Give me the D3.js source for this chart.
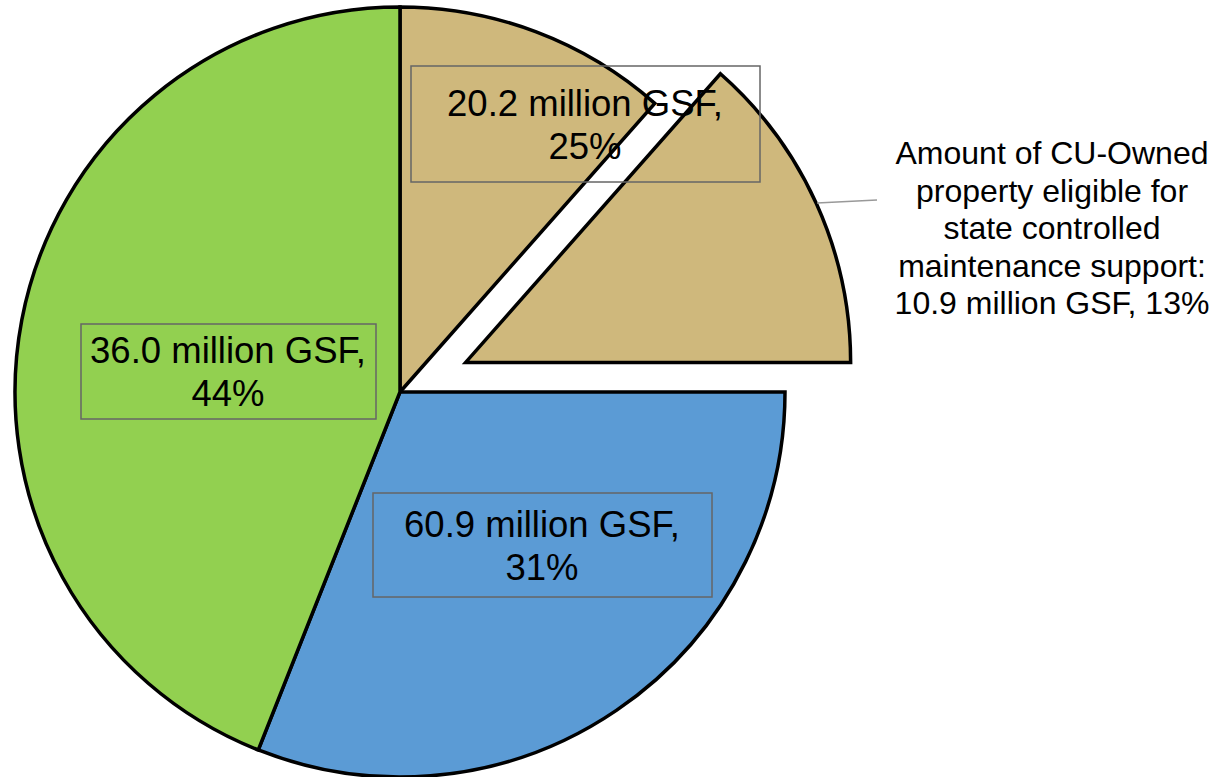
<!DOCTYPE html>
<html>
<head>
<meta charset="utf-8">
<script src="https://cdn.jsdelivr.net/npm/d3@7"></script>
<style>
  html, body { margin: 0; padding: 0; background: #fff; }
  svg { display: block; }
  text { font-family: "Liberation Sans", Arial, Helvetica, sans-serif; fill: #000; }
</style>
</head>
<body>
<svg id="chart" width="1231" height="777"></svg>
<script>
// Share of CU-owned gross square footage, clockwise from 12 o'clock
const slices = ["CU-Owned (state support)", "Other", "Auxiliary"];
const slicePct = [25, 31, 44];
const sliceGSF = [20.2, 60.9, 36.0];
const sliceColors = ["#CFB87C", "#5B9BD5", "#92D050"];

// Part of the first slice eligible for state controlled maintenance support
const eligibleGSF = 10.9;
const eligiblePct = 13;
const eligibleText = [
  "Amount of CU-Owned",
  "property eligible for",
  "state controlled",
  "maintenance support:"
];

const svg = d3.select("#chart");
const cx = 400, cy = 392, radius = 385, explode = 72;

// Split the first wedge by GSF: remainder then the eligible part
const wedges = [
  { key: "rest", pct: slicePct[0] * (sliceGSF[0] - eligibleGSF) / sliceGSF[0], color: sliceColors[0], explode: false },
  { key: "eligible", pct: slicePct[0] * eligibleGSF / sliceGSF[0], color: sliceColors[0], explode: true },
  { key: "s1", pct: slicePct[1], color: sliceColors[1], explode: false },
  { key: "s2", pct: slicePct[2], color: sliceColors[2], explode: false }
];

const pie = d3.pie().sort(null).value(d => d.pct).startAngle(0).endAngle(2 * Math.PI);
const arc = d3.arc().innerRadius(0).outerRadius(radius);
const arcs = pie(wedges);

const g = svg.append("g").attr("transform", `translate(${cx},${cy})`);

g.selectAll("path.slice")
  .data(arcs)
  .join("path")
  .attr("class", "slice")
  .attr("d", arc)
  .attr("fill", d => d.data.color)
  .attr("stroke", "#000")
  .attr("stroke-width", 3.5)
  .attr("stroke-linejoin", "miter")
  .attr("transform", d => {
    if (!d.data.explode) return null;
    const mid = (d.startAngle + d.endAngle) / 2;
    return `translate(${explode * Math.sin(mid)},${-explode * Math.cos(mid)})`;
  });

// Boxed value labels
const boxes = [
  { x: 411, y: 66, w: 349, h: 116, tx: 585, ty: 116 },
  { x: 373, y: 493, w: 339, h: 104, tx: 542, ty: 537 },
  { x: 81, y: 324, w: 295, h: 95, tx: 228, ty: 363 }
];

const labels = svg.append("g");
slicePct.forEach((p, i) => {
  const b = boxes[i];
  labels.append("rect")
    .attr("x", b.x).attr("y", b.y).attr("width", b.w).attr("height", b.h)
    .attr("fill", "none").attr("stroke", "#666").attr("stroke-width", 1.5);
  const t = labels.append("text")
    .attr("x", b.tx).attr("y", b.ty)
    .attr("text-anchor", "middle")
    .style("font-size", "36.5px");
  t.append("tspan").attr("x", b.tx).text(`${sliceGSF[i].toFixed(1)} million GSF,`);
  t.append("tspan").attr("x", b.tx).attr("dy", 43).text(`${p}%`);
});

// Callout for the exploded wedge
svg.append("line")
  .attr("x1", 817).attr("y1", 203).attr("x2", 877).attr("y2", 200)
  .attr("stroke", "#999").attr("stroke-width", 1.5);

const note = svg.append("text")
  .attr("x", 1052).attr("y", 164)
  .attr("text-anchor", "middle")
  .style("font-size", "32px");
eligibleText.concat([`${eligibleGSF.toFixed(1)} million GSF, ${eligiblePct}%`]).forEach((line, i) => {
  note.append("tspan").attr("x", 1052).attr("dy", i === 0 ? 0 : 37.5).text(line);
});
</script>
</body>
</html>
